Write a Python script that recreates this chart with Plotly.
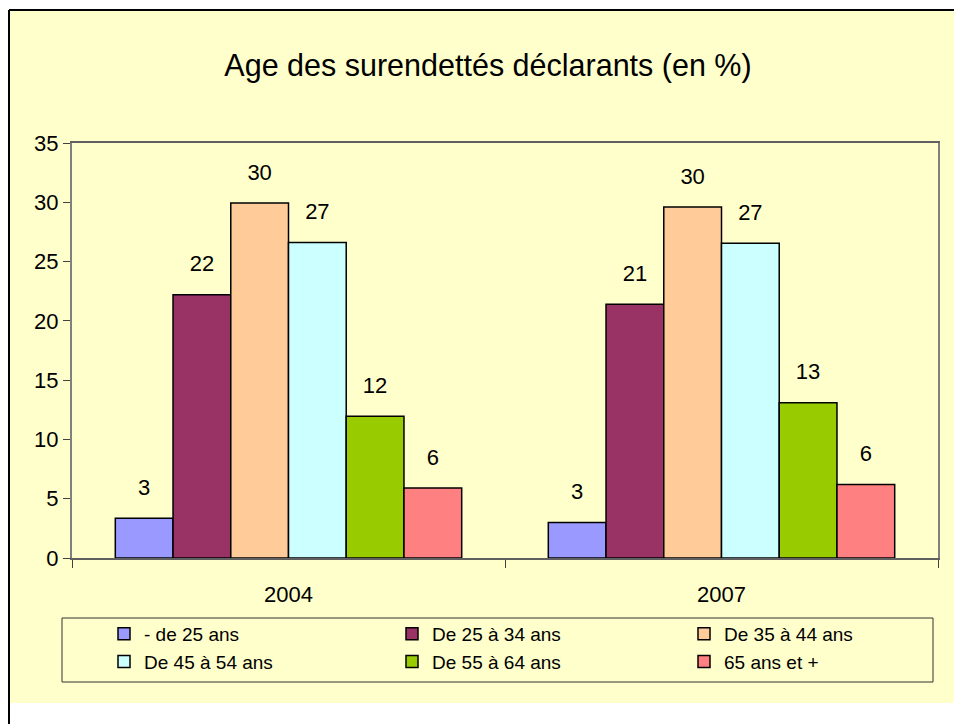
import plotly.graph_objects as go

categories = ["2004", "2007"]
series_names = ["- de 25 ans", "De 25 à 34 ans", "De 35 à 44 ans",
                "De 45 à 54 ans", "De 55 à 64 ans", "65 ans et +"]
v_under25 = [3.35, 3.0]
v_25_34 = [22.2, 21.4]
v_35_44 = [29.95, 29.6]
v_45_54 = [26.6, 26.55]
v_55_64 = [11.95, 13.1]
v_65plus = [5.9, 6.2]
series_values = [v_under25, v_25_34, v_35_44, v_45_54, v_55_64, v_65plus]
colors = ["#9999FF", "#993366", "#FFCC99", "#CCFFFF", "#99CC00", "#FF8080"]
legend_ids = ["legend", "legend2", "legend3", "legend", "legend2", "legend3"]

W, H = 954, 724
L, R, T, B = 72, 16, 143, 166
PW, PH = W - L - R, H - T - B


def fx(px):
    return (px - L) / PW


def fy(py):
    return (H - B - py) / PH


FONT = "Arial, Liberation Sans, sans-serif"

fig = go.Figure()
for name, vals, col, lg in zip(series_names, series_values, colors, legend_ids):
    fig.add_trace(go.Bar(
        x=categories, y=vals, name=name, legend=lg,
        marker=dict(color=col, line=dict(color="black", width=1.5)),
        hoverinfo="skip",
    ))
for name, vals in zip(series_names, series_values):
    fig.add_trace(go.Scatter(
        x=categories, y=vals, mode="markers+text",
        text=[f"{v:.0f}" for v in vals],
        textposition="top center",
        textfont=dict(size=22, color="black", family=FONT),
        marker=dict(size=27, color="rgba(0,0,0,0)", line=dict(width=0)),
        showlegend=False, hoverinfo="skip", cliponaxis=False,
    ))

shapes = [
    dict(type="rect", xref="paper", yref="paper", layer="below",
         x0=fx(9), x1=fx(960), y0=fy(703), y1=fy(10),
         fillcolor="#FFFFCC", line=dict(width=0)),
    dict(type="line", xref="paper", yref="paper", layer="above",
         x0=fx(9), x1=fx(960), y0=fy(10), y1=fy(10),
         line=dict(color="black", width=2)),
    dict(type="line", xref="paper", yref="paper", layer="above",
         x0=fx(9), x1=fx(9), y0=fy(10), y1=fy(730),
         line=dict(color="black", width=2)),
    dict(type="rect", xref="paper", yref="paper", layer="below",
         x0=fx(62), x1=fx(933), y0=fy(682), y1=fy(618),
         line=dict(color="#333333", width=1)),
]

legend_common = dict(orientation="v", xanchor="left", yanchor="top",
                     y=fy(615), bgcolor="rgba(0,0,0,0)", borderwidth=0,
                     font=dict(size=19, family=FONT, color="black"),
                     traceorder="normal", tracegroupgap=0)

fig.update_layout(
    width=W, height=H,
    margin=dict(l=L, r=R, t=T, b=B, autoexpand=False),
    paper_bgcolor="white",
    plot_bgcolor="#C0C0C0",
    barmode="group", bargap=0.2, bargroupgap=0,
    scattermode="group", scattergap=0.2,
    font=dict(family=FONT, color="black", size=20),
    title=dict(text="Age des surendettés déclarants (en %)",
               x=fx(488), xanchor="center", y=1 - 65 / H, yanchor="middle",
               xref="paper", font=dict(size=30.5, family=FONT, color="black")),
    shapes=shapes,
    showlegend=True,
    legend=dict(x=fx(104), **legend_common),
    legend2=dict(x=fx(392), **legend_common),
    legend3=dict(x=fx(684), **legend_common),
)
fig.update_xaxes(
    type="category", showline=True, linecolor="#606060", linewidth=2,
    mirror=True, ticks="outside", tickson="boundaries", ticklen=8,
    tickcolor="#404040", showgrid=False, tickfont=dict(size=22),
    ticklabelstandoff=16,
)
fig.update_yaxes(
    range=[0, 35], dtick=5, showline=True, linecolor="#808080", linewidth=2,
    mirror=True, ticks="outside", ticklen=7, tickcolor="#404040",
    showgrid=False, zeroline=False, tickfont=dict(size=22),
)

fig.write_html("out.html", config={"displayModeBar": False},
               post_script="document.body.style.margin='0';")
